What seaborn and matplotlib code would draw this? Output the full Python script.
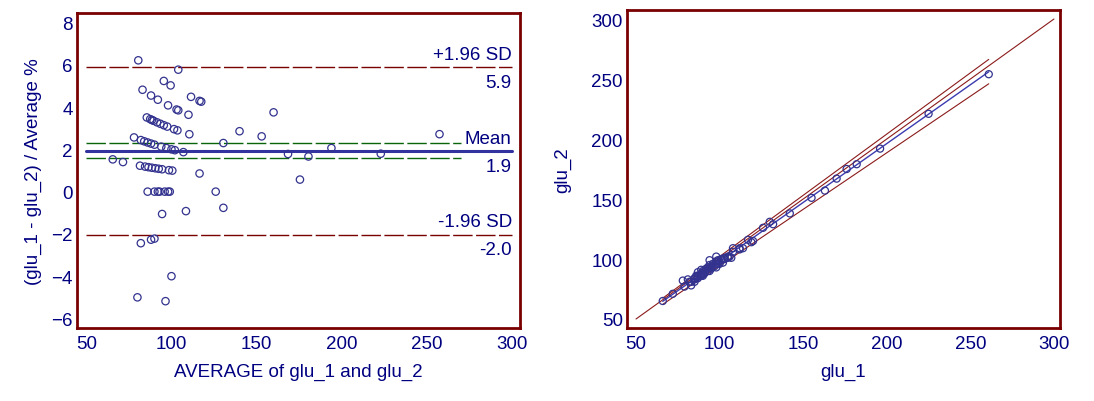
import numpy as np
import pandas as pd
import matplotlib
matplotlib.use("Agg")
import matplotlib.pyplot as plt
from matplotlib.ticker import MultipleLocator
import seaborn as sns

# ---- data ----
glu_1 = [83, 107, 98, 102, 85, 90, 94, 114, 119, 120, 100, 105, 106, 112,
         87, 89, 90, 91, 93, 95, 97, 99, 103, 105, 112,
         79, 83, 85, 87, 89, 91, 95, 98, 101, 103, 108,
         66, 72, 82, 85, 87, 89, 91, 93, 95, 99, 101, 117, 176,
         86, 90, 92, 93, 96, 98, 99, 126,
         94, 108, 130, 81, 87, 89, 98, 78, 94,
         163, 142, 155, 132, 261, 170, 182, 196, 225]
glu_2 = [78, 101, 93, 97, 81, 86, 90, 109, 114, 115, 96, 101, 102, 108,
         84, 86, 87, 88, 90, 92, 94, 96, 100, 102, 109,
         77, 81, 83, 85, 87, 89, 93, 96, 99, 101, 106,
         65, 71, 81, 84, 86, 88, 90, 92, 94, 98, 100, 116, 175,
         86, 90, 92, 93, 96, 98, 99, 126,
         95, 109, 131, 83, 89, 91, 102, 82, 99,
         157, 138, 151, 129, 254, 167, 179, 192, 221]

mean_pct = 1.93
upper_loa = 5.91
lower_loa = -2.03
ci_mean = [1.57, 2.32]
loa_labels = ["+1.96 SD", "Mean", "-1.96 SD"]
loa_values_text = ["5.9", "1.9", "-2.0"]

g1 = np.array(glu_1, float)
g2 = np.array(glu_2, float)
avg = (g1 + g2) / 2
pct = (g1 - g2) / avg * 100
df = pd.DataFrame({"avg": avg, "pct": pct, "glu_1": g1, "glu_2": g2})

NAVY = "#000080"
DRED = "#7a0000"
PT = "#33338f"
BLUE = "#3333a0"
GREEN = "#0a640a"
FS = 13.5

sns.set_style("white")
plt.rcParams["font.family"] = ["Liberation Sans", "DejaVu Sans"]

fig = plt.figure(figsize=(10.94, 4.02), dpi=100)
ax1 = fig.add_axes([0.0704, 0.1816, 0.4049, 0.7836])
ax2 = fig.add_axes([0.5731, 0.1816, 0.3958, 0.7910])

def style(ax):
    for s in ax.spines.values():
        s.set_color(DRED)
        s.set_linewidth(2)
    ax.tick_params(axis="both", which="major", direction="in", length=7,
                   width=1, color=DRED, labelcolor=NAVY, labelsize=FS)
    ax.tick_params(axis="both", which="minor", direction="in", length=4,
                   width=1, color=DRED)
    ax.tick_params(axis="x", pad=5)
    ax.tick_params(axis="y", pad=3)

# ---- left: Bland-Altman ----
sns.scatterplot(data=df, x="avg", y="pct", ax=ax1, marker="o", s=28,
                facecolor="none", edgecolor=PT, linewidth=0.9, zorder=3)
xs_full = [50, 300]
xs_ci = [50, 270]
dash = (14, 2.5)
ax1.plot(xs_full, [upper_loa] * 2, color=DRED, lw=1, dashes=dash)
ax1.plot(xs_full, [lower_loa] * 2, color=DRED, lw=1, dashes=dash)
ax1.plot(xs_ci, [ci_mean[0]] * 2, color=GREEN, lw=1, dashes=dash)
ax1.plot(xs_ci, [ci_mean[1]] * 2, color=GREEN, lw=1, dashes=dash)
ax1.plot(xs_full, [mean_pct] * 2, color=BLUE, lw=2.2)
for lab, val, txt in zip(loa_labels, [upper_loa, mean_pct, lower_loa], loa_values_text):
    ax1.annotate(lab, (300, val), xytext=(0, 3), textcoords="offset points",
                 ha="right", va="bottom", color=NAVY, fontsize=FS)
    ax1.annotate(txt, (300, val), xytext=(0, -5), textcoords="offset points",
                 ha="right", va="top", color=NAVY, fontsize=FS)
ax1.set_xlim(44.5, 304.8)
ax1.set_ylim(-6.45, 8.45)
ax1.xaxis.set_major_locator(MultipleLocator(50))
ax1.yaxis.set_major_locator(MultipleLocator(2))
ax1.yaxis.set_minor_locator(MultipleLocator(1))
ax1.set_xlabel("AVERAGE of glu_1 and glu_2", color=NAVY, fontsize=FS)
ax1.set_ylabel("(glu_1 - glu_2) / Average %", color=NAVY, fontsize=FS)
ax1.xaxis.set_label_coords(0.5, -0.137)
ax1.yaxis.set_label_coords(-0.099, 0.5)
ax1.xaxis.label.set_va("center")
ax1.yaxis.label.set_va("center")
style(ax1)

# ---- right: scatter with equality / agreement lines ----
def conv(x, d):
    f = (1 - d / 200) / (1 + d / 200)
    return np.asarray(x) * f

xr = np.array([g1.min(), g1.max()])
ax2.plot([50, 300], [50, 300], color="#8b1a1a", lw=0.8)
ax2.plot(xr, conv(xr, upper_loa), color="#8b1a1a", lw=0.8)
ax2.plot(xr, conv(xr, lower_loa), color="#8b1a1a", lw=0.8)
ax2.plot(xr, conv(xr, mean_pct), color="#3b3bb0", lw=1)
sns.scatterplot(data=df, x="glu_1", y="glu_2", ax=ax2, marker="o", s=26,
                facecolor="none", edgecolor=PT, linewidth=0.9, zorder=3)
ax2.set_xlim(44.6, 303.6)
ax2.set_ylim(42.5, 307.5)
ax2.xaxis.set_major_locator(MultipleLocator(50))
ax2.yaxis.set_major_locator(MultipleLocator(50))
ax2.set_xlabel("glu_1", color=NAVY, fontsize=FS)
ax2.set_ylabel("glu_2", color=NAVY, fontsize=FS)
ax2.xaxis.set_label_coords(0.5, -0.137)
ax2.yaxis.set_label_coords(-0.148, 0.5)
ax2.xaxis.label.set_va("center")
ax2.yaxis.label.set_va("center")
style(ax2)

fig.savefig("out.png", dpi=100, facecolor="white")
